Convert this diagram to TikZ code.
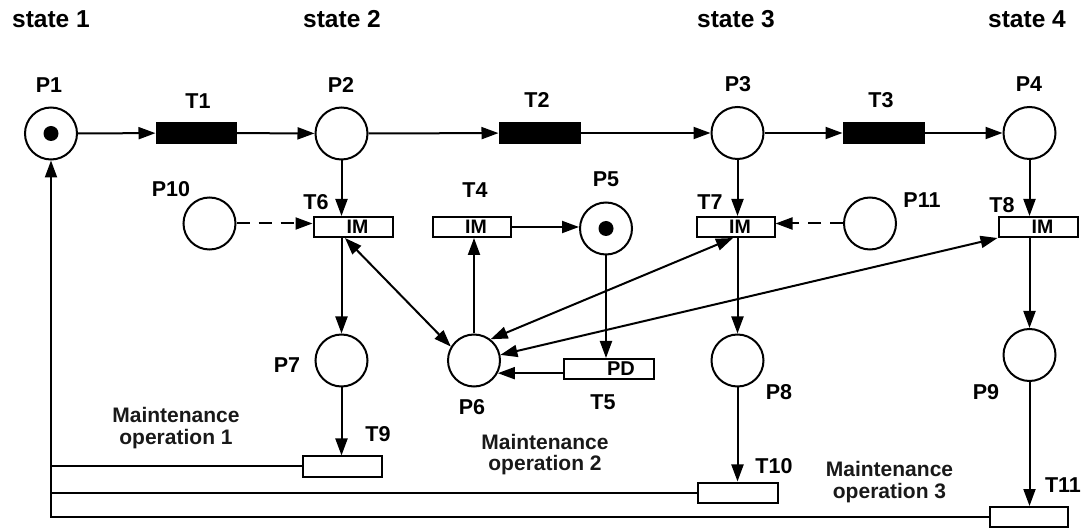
\documentclass[tikz,border=0pt]{standalone}
\usepackage{fontspec}
\setmainfont{Liberation Sans}
\usetikzlibrary{arrows.meta,calc}
\begin{document}
\begin{tikzpicture}[x=1pt,y=-1pt,
  place/.style={circle,draw,line width=2pt,minimum size=52pt,inner sep=0pt},
  trans/.style={rectangle,draw,line width=2pt,inner sep=0pt,minimum height=20pt,
    font=\bfseries\fontsize{19.5}{21}\selectfont},
  timed/.style={rectangle,fill=black,draw=black,line width=1pt,inner sep=0pt,minimum width=80pt,minimum height=21pt},
  lbl/.style={font=\bfseries\fontsize{21.5}{24}\selectfont,anchor=base,inner sep=0pt},
  stlbl/.style={font=\bfseries\fontsize{24.5}{26}\selectfont,anchor=base,inner sep=0pt},
  mlbl/.style={font=\bfseries\fontsize{21}{23}\selectfont,anchor=base,inner sep=0pt,text=black!90},
  arc/.style={line width=2pt,-{Triangle[length=17pt,width=12pt]}},
  arcboth/.style={line width=2pt,{Triangle[length=17pt,width=12pt]}-{Triangle[length=17pt,width=12pt]}},
  arcdash/.style={line width=2pt,dash pattern=on 13pt off 9pt,-{Triangle[length=17pt,width=12pt]}},
  plain/.style={line width=2pt},
  token/.style={circle,fill=black,minimum size=15pt,inner sep=0pt}
]
\useasboundingbox (0,0) rectangle (1088,529);

% places
\node[place] (P1) at (51,133.5) {};
\node[place] (P2) at (341.5,133.5) {};
\node[place] (P3) at (737.5,133) {};
\node[place] (P4) at (1029.5,133) {};
\node[place] (P10) at (209.5,223.5) {};
\node[place] (P11) at (870,223.5) {};
\node[place] (P5) at (606,228.5) {};
\node[place] (P7) at (341.5,360.5) {};
\node[place] (P6) at (474,360.5) {};
\node[place] (P8) at (737.5,360.5) {};
\node[place] (P9) at (1029.5,355) {};
\node[token] (k1) at (P1) {};
\node[token] (k5) at (P5) {};

% timed transitions
\node[timed] (T1) at (196,133) {};
\node[timed,minimum width=81pt] (T2) at (539.5,133) {};
\node[timed,minimum width=81pt] (T3) at (883.5,133) {};

% immediate transitions
\node[trans,minimum width=79pt] (T6) at (353,227) {\hspace*{9pt}IM};
\node[trans,minimum width=78pt] (T4) at (471.5,227) {\hspace*{9pt}IM};
\node[trans,minimum width=78pt] (T7) at (735.5,227) {\hspace*{9pt}IM};
\node[trans,minimum width=79pt] (T8) at (1038,227) {\hspace*{9pt}IM};
\node[trans,minimum width=90pt,font=\bfseries\fontsize{20}{22}\selectfont] (T5) at (608.5,369) {\hspace*{25pt}PD};
\node[trans,minimum width=79pt] (T9) at (342,466.5) {};
\node[trans,minimum width=80pt] (T10) at (737.5,492.5) {};
\node[trans,minimum width=78pt] (T11) at (1028.5,517) {};

% labels
\node[stlbl] (s1) at (51,28) {state 1};
\node[stlbl] (s2) at (342,28) {state 2};
\node[stlbl] (s3) at (736,28) {state 3};
\node[stlbl] (s4) at (1027,28) {state 4};
\node[lbl] (lP1) at (49,93) {P1};
\node[lbl] (lP2) at (341,93) {P2};
\node[lbl] (lP3) at (738,92) {P3};
\node[lbl] (lP4) at (1029,92) {P4};
\node[lbl] (lT1) at (198,108.5) {T1};
\node[lbl] (lT2) at (537,108) {T2};
\node[lbl] (lT3) at (881,108) {T3};
\node[lbl] (lP10) at (171,197) {P10};
\node[lbl] (lT6) at (316,210) {T6};
\node[lbl] (lT4) at (475,198) {T4};
\node[lbl] (lP5) at (606,187) {P5};
\node[lbl] (lT7) at (710,210) {T7};
\node[lbl] (lP11) at (922,208) {P11};
\node[lbl] (lT8) at (1002,213) {T8};
\node[lbl] (lP7) at (287,373) {P7};
\node[lbl] (lP6) at (472,415) {P6};
\node[lbl] (lT5) at (603,410) {T5};
\node[lbl] (lP8) at (779,400) {P8};
\node[lbl] (lP9) at (986,400) {P9};
\node[lbl] (lT9) at (378,442) {T9};
\node[lbl] (lT10) at (774,473) {T10};
\node[lbl] (lT11) at (1063,493) {T11};
\node[mlbl] (m1a) at (176,422.7) {Maintenance};
\node[mlbl] (m1b) at (176,444.3) {operation 1};
\node[mlbl] (m2a) at (545,449.3) {Maintenance};
\node[mlbl] (m2b) at (545,470.5) {operation 2};
\node[mlbl] (m3a) at (889.5,476.7) {Maintenance};
\node[mlbl] (m3b) at (889.5,498) {operation 3};

% main line
\draw[arc] (P1) -- (T1);
\draw[arc] (T1) -- (P2);
\draw[arc] (P2) -- (T2);
\draw[arc] (T2) -- (P3);
\draw[arc] (P3) -- (T3);
\draw[arc] (T3) -- (P4);

% to IM transitions
\draw[arc] (P2.south) -- (P2.south |- T6.north);
\draw[arc] (P3.south) -- (P3.south |- T7.north);
\draw[arc] (P4.south) -- (P4.south |- T8.north);
\draw[arcdash] (P10.east) -- (P10.east -| T6.west);
\draw[arcdash] (P11.west) -- (P11.west -| T7.east);

% IM to repair places
\draw[arc] (T6.south -| P7) -- (P7.north);
\draw[arc] (T7.south -| P8) -- (P8.north);
\draw[arc] (T8.south -| P9) -- (P9.north);

% resource loop
\draw[arcboth] ([xshift=-8pt]T6.south) -- (P6.149);
\draw[arcboth] ([xshift=-2.5pt]T7.south) -- (P6.52);
\draw[arcboth] (T8.south west) -- (P6.12);
\draw[arc] (P6.north) -- (P6.north |- T4.south);
\draw[arc] (T4.east) -- (T4.east -| P5.west);
\draw[arc] (P5.south) -- (P5.south |- T5.north);
\draw[arc] (P6.-28 -| T5.west) -- (P6.-28);

% maintenance
\draw[arc] (P7.south) -- (P7.south |- T9.north);
\draw[arc] (P8.south) -- (P8.south |- T10.north);
\draw[arc] (P9.south) -- (P9.south |- T11.north);
\draw[plain] (T9.west) -- (T9.west -| P1);
\draw[plain] (T10.west) -- (T10.west -| P1);
\draw[arc] (T11.west) -| (P1.south);
\end{tikzpicture}
\end{document}
